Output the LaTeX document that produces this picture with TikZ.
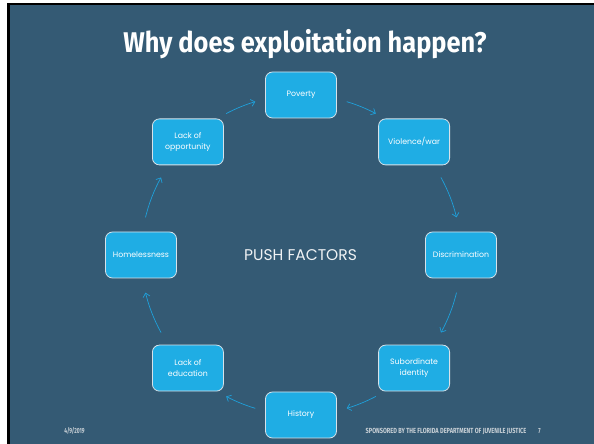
\documentclass[tikz,border=0pt]{standalone}
\usepackage{fontspec}
\setmainfont{Poppins}
\newfontfamily\titlefont[FakeStretch=0.89]{Fira Sans}
\newfontfamily\footfont[FakeStretch=0.66]{Fira Sans}
\newfontfamily\footwidefont[FakeStretch=0.76]{Fira Sans}
\usetikzlibrary{arrows.meta}
\definecolor{slidebg}{RGB}{52,90,116}
\definecolor{boxfill}{RGB}{31,173,228}
\definecolor{boxline}{RGB}{214,226,234}
\definecolor{arrowc}{RGB}{31,160,218}
\definecolor{foottext}{RGB}{200,208,214}
\tikzset{
  box/.style={draw=boxline, fill=boxfill, rounded corners=7pt, minimum width=71pt,
    minimum height=46pt, inner sep=1pt, text=white, align=center, line width=0.8pt,
    font=\fontsize{7.8}{10.8}\selectfont},
  flow/.style={draw=arrowc, line width=0.7pt, -{Straight Barb[length=3.8pt,width=7pt]}},
  foot/.style={text=foottext, font=\footfont\bfseries\fontsize{7.4}{8}\selectfont, anchor=base},
  footwide/.style={foot, font=\footwidefont\bfseries\fontsize{7.4}{8}\selectfont}
}
\begin{document}
\begin{tikzpicture}[x=1pt,y=1pt]
\useasboundingbox (0,0) rectangle (594,444);
\fill[white] (0,0) rectangle (594,444);
\fill[black] (7,0) rectangle (594,441);
\fill[slidebg] (10,0) rectangle (594,439);
\node[anchor=base, text=white, font=\titlefont\bfseries\fontsize{28.5}{30}\selectfont] (title) at (305,391.3) {Why does exploitation happen?};
\coordinate (c) at (301,189);
\node[box] (pov) at (301,349) {Poverty};
\node[box] (vio) at (414.1,302.1) {Violence/war};
\node[box] (dis) at (461,189) {Discrimination};
\node[box] (sub) at (414.1,75.9) {Subordinate\\identity};
\node[box] (his) at (301,29) {History};
\node[box] (edu) at (187.9,75.9) {Lack of\\education};
\node[box] (hom) at (141,189) {Homelessness};
\node[box] (opp) at (187.9,302.1) {Lack of\\opportunity};
\node[anchor=base, text=white!92!slidebg, font=\fontsize{15.5}{18}\selectfont] (push) at (300.5,183) {PUSH FACTORS};
\foreach \n/\s/\e in {1/73.4/62.1, 2/29/13.6, 3/-13.6/-29, 4/-62.1/-73.4, 5/-106.6/-117.9, 6/-151/-166.4, 7/166.4/151, 8/117.9/106.6}{
  \coordinate (a\n) at ([shift={(\s:160)}]c);
  \draw[flow] (a\n) arc[start angle=\s, end angle=\e, radius=160];
}
\node[foot] (date) at (74.5,10.2) {4/9/2019};
\node[footwide] (spons) at (446,10.2) {SPONSORED BY THE FLORIDA DEPARTMENT OF JUVENILE JUSTICE};
\node[foot] (page) at (539.5,10.2) {7};
\end{tikzpicture}
\end{document}
